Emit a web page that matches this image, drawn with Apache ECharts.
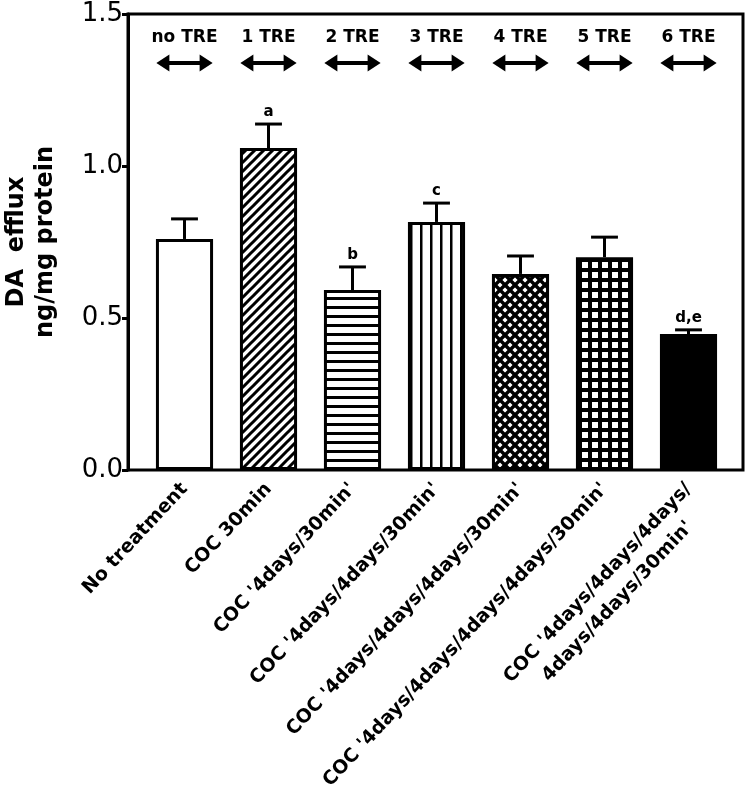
<!DOCTYPE html>
<html><head><meta charset="utf-8">
<script src="https://cdn.jsdelivr.net/npm/echarts@6/dist/echarts.min.js"></script>
<style>html,body{margin:0;padding:0;background:#fff}#c{width:750px;height:804px}</style>
</head><body><div id="c"></div>
<script>
const categories = ["No treatment", "COC 30min", "COC '4days/30min'", "COC '4days/4days/30min'", "COC '4days/4days/4days/30min'", "COC '4days/4days/4days/4days/30min'", "COC '4days/4days/4days/\n4days/4days/30min'"];
const means = [0.76, 1.059, 0.592, 0.816, 0.645, 0.70, 0.447];
const errTops = [0.826, 1.138, 0.668, 0.878, 0.704, 0.766, 0.461];
const sigLabels = ["", "a", "b", "c", "", "", "d,e"];
const treLabels = ["no TRE", "1 TRE", "2 TRE", "3 TRE", "4 TRE", "5 TRE", "6 TRE"];
const yTicks = [0, 0.5, 1.0, 1.5];
const yTickLabels = ["0.0", "0.5", "1.0", "1.5"];

const FONT = 'DejaVu Sans';
function tile(size, draw) {
  const c = document.createElement('canvas'); c.width = size; c.height = size;
  const g = c.getContext('2d'); g.fillStyle = '#fff'; g.fillRect(0, 0, size, size);
  draw(g, size); return { image: c, repeat: 'repeat' };
}
function diagLines(g, s, dir) {
  g.beginPath();
  for (let k = -1; k <= 2; k++) {
    if (dir > 0) { g.moveTo(k * s - s - 2, s + 2); g.lineTo(k * s + 2, -2); }
    else { g.moveTo(k * s - s - 2, -2); g.lineTo(k * s + 2, s + 2); }
  }
  g.stroke();
}
const fills = [
  '#ffffff',
  tile(9, (g, s) => { g.strokeStyle = '#000'; g.lineWidth = 3; diagLines(g, s, 1); }),
  tile(9, (g, s) => { g.fillStyle = '#000'; g.fillRect(0, 0, s, 3); }),
  tile(10, (g, s) => { g.fillStyle = '#000'; g.fillRect(0, 0, 2.5, s); }),
  tile(10, (g, s) => { g.strokeStyle = '#000'; g.lineWidth = 3.4; diagLines(g, s, 1); diagLines(g, s, -1); }),
  tile(10, (g, s) => { g.fillStyle = '#000'; g.fillRect(0, 0, s, s); g.fillStyle = '#fff'; g.fillRect(2, 2, 6, 6); }),
  '#000000'
];

const LABEL_SIZE = 19;
const LINE_H = 27;
const catItems = categories.map(c => c.indexOf('\n') >= 0 ? { value: c, textStyle: { padding: [LINE_H, 0, 0, 0] } } : c);

const chart = echarts.init(document.getElementById('c'), null, { renderer: 'canvas' });
chart.setOption({
  animation: false,
  backgroundColor: '#fff',
  grid: [
    { left: 128, right: 7, top: 14, bottom: 334, outerBoundsMode: 'none', containLabel: false, show: true, borderColor: '#000', borderWidth: 3, backgroundColor: 'transparent' },
    { left: 142.5, right: 19.5, top: 14, bottom: 334, outerBoundsMode: 'none', containLabel: false }
  ],
  xAxis: [
    { gridIndex: 0, type: 'value', min: 0, max: 1, show: false },
    {
      gridIndex: 1, type: 'category', data: catItems,
      axisLine: { show: false }, axisTick: { show: false }, splitLine: { show: false },
      axisLabel: {
        interval: 0, rotate: 47, margin: 16, hideOverlap: false,
        fontSize: LABEL_SIZE, fontWeight: 'bold', fontFamily: FONT, color: '#000',
        formatter: v => v.indexOf('\n') >= 0 ? v.split('\n').map(s => '{c|' + s + '}').join('\n') : v,
        rich: { c: { align: 'center', fontSize: LABEL_SIZE, fontWeight: 'bold', fontFamily: FONT, color: '#000', lineHeight: LINE_H } }
      }
    }
  ],
  yAxis: [
    {
      gridIndex: 0, type: 'value', min: 0, max: 1.5, interval: 0.5,
      axisLine: { show: true, lineStyle: { color: '#000', width: 3 } },
      axisTick: { show: true, inside: false, length: 6, lineStyle: { color: '#000', width: 3 } },
      splitLine: { show: false },
      axisLabel: {
        margin: 5, fontSize: 26, fontFamily: FONT, color: '#000',
        formatter: v => yTickLabels[yTicks.findIndex(t => Math.abs(t - v) < 1e-9)]
      },
      name: 'DA  efflux\nng/mg protein', nameLocation: 'middle', nameGap: 68, nameRotate: 90,
      nameTextStyle: { fontSize: 24, fontWeight: 'bold', fontFamily: FONT, color: '#000', lineHeight: 29 }
    },
    { gridIndex: 1, type: 'value', min: 0, max: 1.5, show: false }
  ],
  series: [
    {
      type: 'bar', xAxisIndex: 1, yAxisIndex: 1, barWidth: '68%', z: 2,
      itemStyle: { borderColor: '#000', borderWidth: 3 },
      data: means.map((v, i) => ({ value: v, itemStyle: { color: fills[i] } }))
    },
    {
      type: 'custom', xAxisIndex: 1, yAxisIndex: 1, z: 3,
      data: means.map((m, i) => [i, m, errTops[i]]),
      renderItem: (params, api) => {
        const i = api.value(0);
        const p0 = api.coord([i, api.value(1)]);
        const p1 = api.coord([i, api.value(2)]);
        const hw = api.size([1, 0])[0] * 0.16;
        const st = { stroke: '#000', lineWidth: 3 };
        const children = [
          { type: 'line', shape: { x1: p0[0], y1: p0[1], x2: p1[0], y2: p1[1] }, style: st },
          { type: 'line', shape: { x1: p1[0] - hw, y1: p1[1], x2: p1[0] + hw, y2: p1[1] }, style: st }
        ];
        if (sigLabels[i]) children.push({
          type: 'text', x: p1[0], y: p1[1] - 4,
          style: { text: sigLabels[i], fontSize: 15, fontWeight: 'bold', fontFamily: FONT, fill: '#000', align: 'center', verticalAlign: 'bottom' }
        });
        return { type: 'group', children };
      }
    },
    {
      type: 'custom', xAxisIndex: 1, yAxisIndex: 1, z: 3,
      data: treLabels.map((t, i) => [i]),
      renderItem: (params, api) => {
        const i = api.value(0);
        const pa = api.coord([i, 1.339]);
        const pt = api.coord([i, 1.421]);
        const hw = api.size([1, 0])[0] * 0.335;
        const hl = 13, hh = 8.5;
        const x0 = pa[0] - hw, x1 = pa[0] + hw, y = pa[1];
        return {
          type: 'group', children: [
            { type: 'line', shape: { x1: x0 + hl - 1, y1: y, x2: x1 - hl + 1, y2: y }, style: { stroke: '#000', lineWidth: 4 } },
            { type: 'polygon', shape: { points: [[x0, y], [x0 + hl, y - hh], [x0 + hl, y + hh]] }, style: { fill: '#000' } },
            { type: 'polygon', shape: { points: [[x1, y], [x1 - hl, y - hh], [x1 - hl, y + hh]] }, style: { fill: '#000' } },
            { type: 'text', x: pt[0], y: pt[1], style: { text: treLabels[i], fontSize: 17, fontWeight: 'bold', fontFamily: FONT, fill: '#000', align: 'center', verticalAlign: 'middle' } }
          ]
        };
      }
    }
  ]
});
</script></body></html>
